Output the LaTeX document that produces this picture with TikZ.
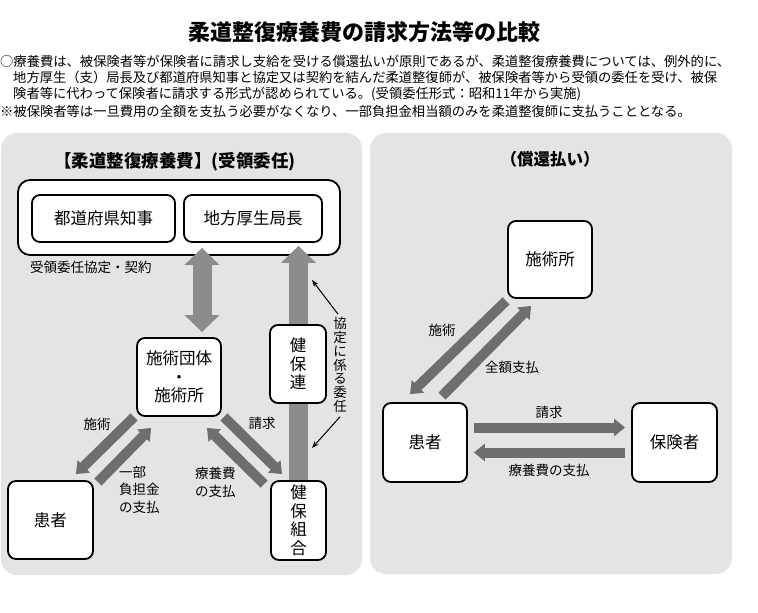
\documentclass[tikz,border=0pt]{standalone}
\usepackage{fontspec}
\setmainfont{Noto Sans CJK JP}
\usetikzlibrary{arrows.meta}
\definecolor{panel}{HTML}{E4E4E4}
\definecolor{flow}{HTML}{6E6E6E}
\definecolor{bigflow}{HTML}{8C8C8C}

\begin{document}
\begin{tikzpicture}[x=1pt,y=-1pt,
    box/.style={draw,line width=1.8pt,rounded corners=8pt,fill=white,inner sep=0pt,
      font=\fontsize{16.5}{18.5}\selectfont,align=center},
    lbl/.style={inner sep=0pt,align=left,font=\fontsize{13.5}{17.5}\selectfont},
    txt/.style={inner sep=0pt,anchor=west,font=\fontsize{13.3}{13.3}\selectfont},
    flowarrow/.style={draw=flow,line width=10pt,-{Triangle[width=17pt,length=11pt]}},
    bigarrow/.style={draw=bigflow,line width=19pt,-{Triangle[width=34pt,length=17pt]}}]
  \useasboundingbox (0,0) rectangle (758,613);

  \node[font=\bfseries\fontsize{22}{22}\selectfont] (title) at (364,32) {柔道整復療養費の請求方法等の比較};
  \path
  (0,61) node[txt] (p1) {○療養費は、被保険者等が保険者に請求し支給を受ける償還払いが原則であるが、柔道整復療養費については、例外的に、}
  (13,77.5) node[txt] (p2) {地方厚生（支）局長及び都道府県知事と協定又は契約を結んだ柔道整復師が、被保険者等から受領の委任を受け、被保}
  (13,94) node[txt] (p3) {険者等に代わって保険者に請求する形式が認められている。(受領委任形式：昭和11年から実施)}
  (0,111) node[txt] (p4) {※被保険者等は一旦費用の全額を支払う必要がなくなり、一部負担金相当額のみを柔道整復師に支払うこととなる。}
  ;

  % panels
  \fill[panel,rounded corners=16pt] (1,133) rectangle (362,575);
  \fill[panel,rounded corners=16pt] (370,133) rectangle (732,574);

  % left: juryo inin
  \node[font=\bfseries\fontsize{17.5}{17.5}\selectfont] (ltitle) at (175,162) {【柔道整復療養費】(受領委任)};
  \node[box,rounded corners=12pt,minimum width=322pt,minimum height=75pt] (outer) at (179,217.5) {};
  \node[box,minimum width=143pt,minimum height=47pt] (chiji) at (103.5,218.5) {都道府県知事};
  \node[box,minimum width=138pt,minimum height=47pt] (kyoku) at (253,218.5) {地方厚生局長};
  \node[lbl,anchor=west] (kyotei) at (30,267) {受領委任協定・契約};

  \node[box,minimum width=84pt,minimum height=78pt] (dantai) at (179,377) {施術団体\\・\\施術所};
  \node[box,minimum width=85pt,minimum height=78pt] (kanjaL) at (50.5,520) {患者};
  \node[box,minimum width=55pt,minimum height=79pt] (kumiai) at (298.5,520.5) {健\\保\\組\\合};

  \draw[bigarrow,{Triangle[width=34pt,length=17pt]}-{Triangle[width=34pt,length=17pt]}]
    ([shift={(23,-5)}]dantai.north) -- ([shift={(23,-8)}]outer.south);
  \draw[bigarrow] (kumiai.north) -- ([yshift=10pt]outer.south -| kumiai.north);
  \node[box,minimum width=56pt,minimum height=78pt] (kenporen) at (298,364) {健\\保\\連};

  \node[lbl,align=center,font=\fontsize{13.5}{13.8}\selectfont] (inin) at (340,365)
    {協\\定\\に\\係\\る\\委\\任};
  \coordinate (inintop) at (312,280);
  \coordinate (ininbot) at (312,448);
  \draw[-{Stealth[length=7pt,width=5pt]},line width=1pt] ([shift={(-2,-3)}]inin.north) -- (inintop);
  \draw[-{Stealth[length=7pt,width=5pt]},line width=1pt] ([shift={(0,4)}]inin.south) -- (ininbot);

  \draw[flowarrow] ([xshift=-2pt]dantai.south west) -- ([shift={(-18,-6)}]kanjaL.north east);
  \draw[flowarrow] ([shift={(4,2)}]kanjaL.north east) -- ([shift={(15,11)}]dantai.south west);
  \draw[flowarrow] ([xshift=2pt]dantai.south east) -- ([shift={(12,-6)}]kumiai.north west);
  \draw[flowarrow] ([shift={(-6,4)}]kumiai.north west) -- ([shift={(-15,11)}]dantai.south east);

  \node[lbl] (sejutsuL) at (97,424) {施術};
  \node[lbl,anchor=north west] (futan) at (119,466) {一部\\負担金\\の支払};
  \node[lbl] (seikyuL) at (262,423) {請求};
  \node[lbl,anchor=north west] (ryoyoL) at (195,467) {療養費\\の支払};

  % right: shokan barai
  \node[font=\bfseries\fontsize{16.5}{16.5}\selectfont] (rtitle) at (550,159) {（償還払い）};
  \node[box,minimum width=84pt,minimum height=77pt] (shojo) at (550,259.5) {施術所};
  \node[box,minimum width=84pt,minimum height=79pt] (kanjaR) at (425,442.5) {患者};
  \node[box,minimum width=85pt,minimum height=79pt] (hoken) at (674.5,442.5) {保険者};

  \draw[flowarrow] ([shift={(6,-15)}]kanjaR.east) -- ([shift={(-6,-15)}]hoken.west);
  \draw[flowarrow] ([shift={(-6,10)}]hoken.west) -- ([shift={(6,10)}]kanjaR.east);
  \draw[flowarrow] ([shift={(-1,2)}]shojo.south west) -- ([shift={(-15,-8)}]kanjaR.north);
  \draw[flowarrow] ([shift={(17,-6)}]kanjaR.north) -- ([shift={(24,7)}]shojo.south west);

  \node[lbl] (sejutsuR) at (442,330) {施術};
  \node[lbl] (zengaku) at (512,367) {全額支払};
  \node[lbl] (seikyuR) at (549,412) {請求};
  \node[lbl] (ryoyoR) at (549,470) {療養費の支払};
\end{tikzpicture}
\end{document}
